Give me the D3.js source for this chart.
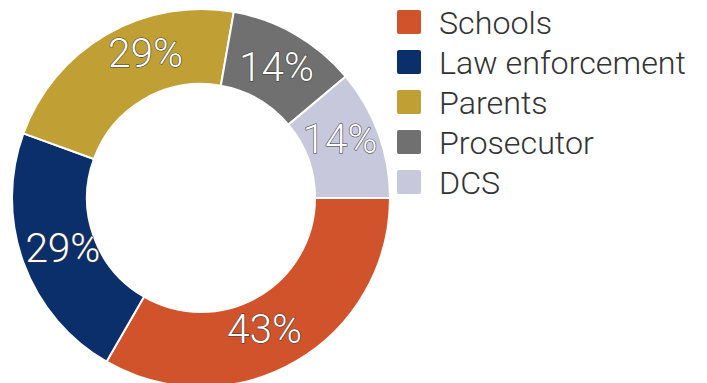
<!DOCTYPE html>
<html>
<head>
<meta charset="utf-8">
<script src="https://cdn.jsdelivr.net/npm/d3@7"></script>
<style>
  html, body { margin: 0; padding: 0; background: #fff; }
  svg { display: block; }
  text { font-family: Roboto, "Noto Sans", sans-serif; }
</style>
</head>
<body>
<svg id="chart" width="707" height="383"></svg>
<script>
// Who referred the cases (share of respondents naming each source)
const categories = ["Schools", "Law enforcement", "Parents", "Prosecutor", "DCS"];
const counts = [3, 2, 2, 1, 1];
const percentLabels = ["43%", "29%", "29%", "14%", "14%"];
const colors = ["#D0532C", "#0A2F6B", "#C09F35", "#707070", "#C8C8DC"];

const svg = d3.select("#chart");
const cx = 201, cy = 198, outerR = 189, innerR = 114, labelR = 149;

// Hand-tuned label placement: angle shift (degrees) and radius per slice
const labelPlacement = {
  "Schools": { shift: 4, r: 145 },
  "Law enforcement": { shift: 0, r: 147 },
  "Parents": { shift: 9, r: 155 },
  "Prosecutor": { shift: 0, r: 151 },
  "DCS": { shift: -3, r: 151 }
};

const color = d3.scaleOrdinal().domain(categories).range(colors);

const pie = d3.pie()
  .value((d, i) => counts[i])
  .sort(null)
  .startAngle(Math.PI / 2)
  .endAngle(Math.PI / 2 + 2 * Math.PI);

const arcs = pie(categories);
const arc = d3.arc().innerRadius(innerR).outerRadius(outerR);

function labelPos(d) {
  const p = labelPlacement[d.data] || { shift: 0, r: labelR };
  const a = (d.startAngle + d.endAngle) / 2 + p.shift * Math.PI / 180;
  return [p.r * Math.sin(a), -p.r * Math.cos(a)];
}

const g = svg.append("g").attr("transform", `translate(${cx},${cy})`);

g.selectAll("path.slice")
  .data(arcs)
  .join("path")
  .attr("class", "slice")
  .attr("d", arc)
  .attr("fill", d => color(d.data))
  .attr("stroke", "#fff")
  .attr("stroke-width", 2);

const pctFont = 35;
g.selectAll("text.pct")
  .data(arcs)
  .join("text")
  .attr("class", "pct")
  .attr("transform", d => `translate(${labelPos(d)})`)
  .attr("text-anchor", "middle")
  .attr("dy", "0.35em")
  .style("font-size", pctFont + "px")
  .style("font-weight", 300)
  .attr("fill", "#fff")
  .attr("stroke", "#3a3a3a")
  .attr("stroke-width", 1.1)
  .attr("paint-order", "stroke")
  .text((d, i) => percentLabels[i]);

// Legend
const legend = svg.append("g").attr("transform", "translate(397,10)");
const rows = legend.selectAll("g.row")
  .data(categories)
  .join("g")
  .attr("class", "row")
  .attr("transform", (d, i) => `translate(0,${i * 40})`);

rows.append("rect")
  .attr("width", 24)
  .attr("height", 24)
  .attr("rx", 2)
  .attr("fill", d => color(d));

rows.append("text")
  .attr("x", 42)
  .attr("y", 12)
  .attr("dy", "0.36em")
  .style("font-size", "32px")
  .style("font-weight", 300)
  .attr("fill", "#333")
  .text(d => d);

// Fit the legend font so "Law enforcement" spans its column width
const lawNode = rows.filter(d => d === "Law enforcement").select("text").node();
const w = lawNode.getComputedTextLength();
const fs = 32 * 247 / w;
rows.selectAll("text").style("font-size", fs + "px");

// Fit percent labels so "43%" is about 75px wide
const pNode = g.select("text.pct").node();
const pw = pNode.getComputedTextLength();
g.selectAll("text.pct").style("font-size", (pctFont * 75 / pw) + "px");
</script>
</body>
</html>
